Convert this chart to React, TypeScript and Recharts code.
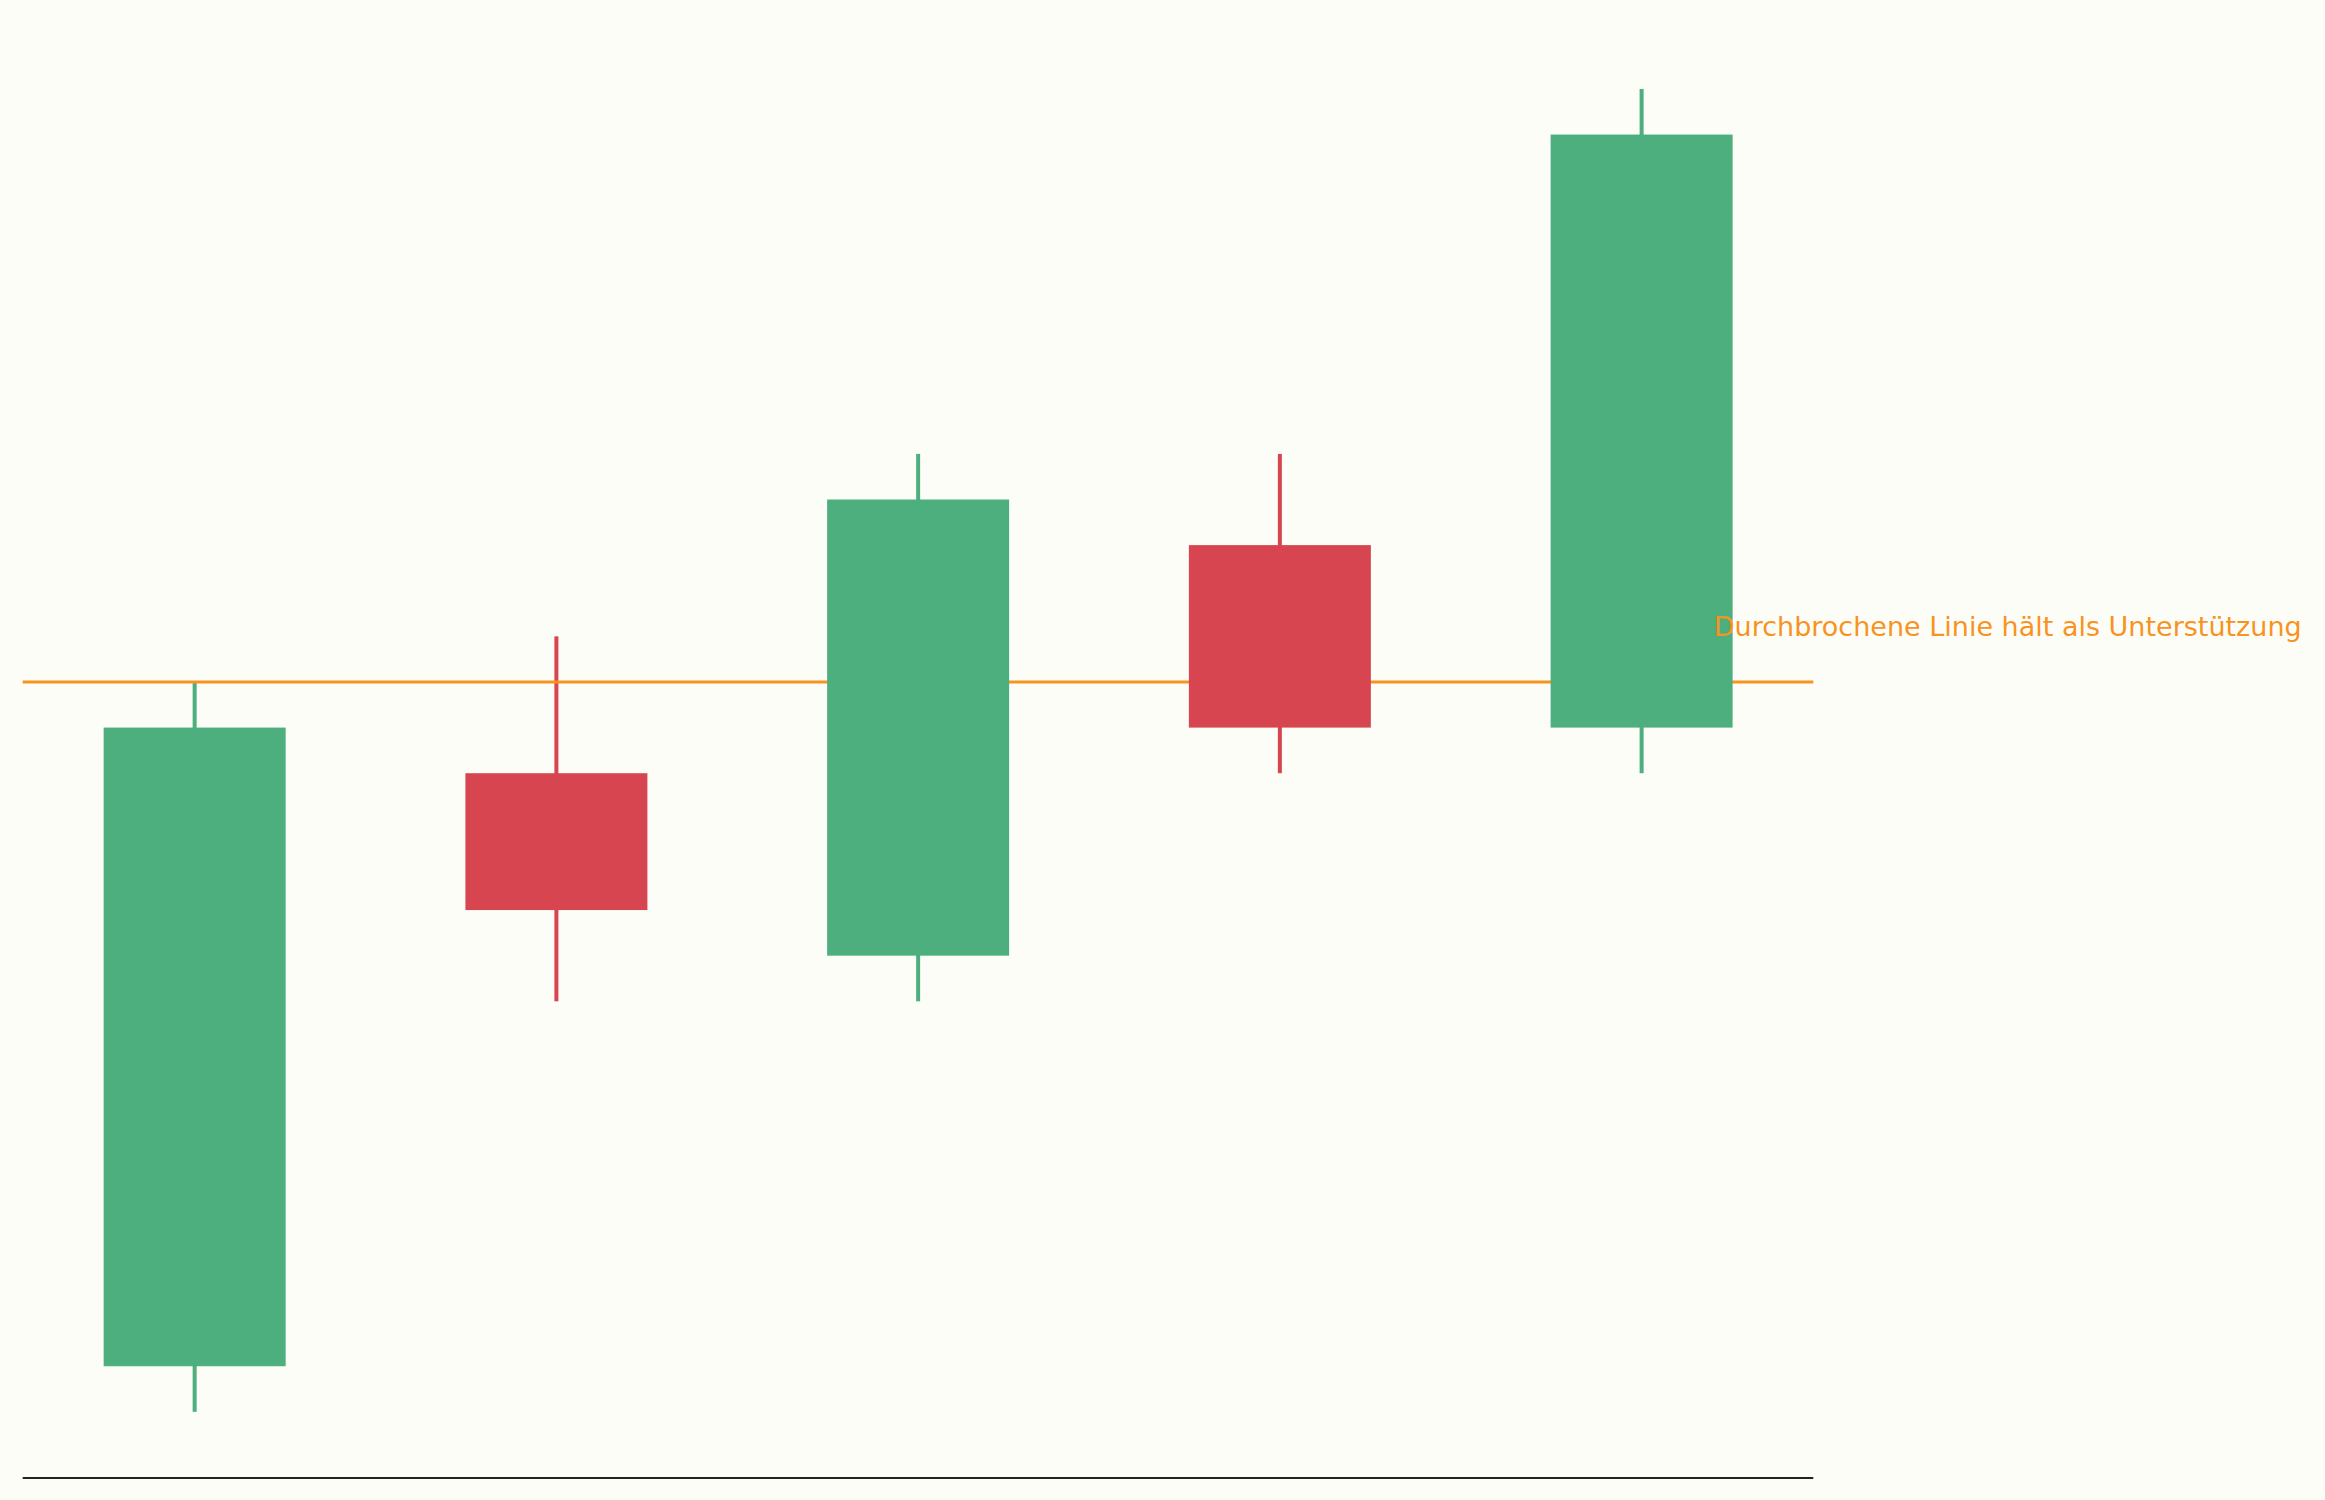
import React from "react";
import { ComposedChart, Bar, XAxis, YAxis, ReferenceLine, ReferenceDot } from "recharts";

// ---- data ----
const xIndex = [0, 1, 2, 3, 4];
const openValues = [85, 98, 94, 103, 99];
const closeValues = [99, 95, 104, 99, 112];
const highValues = [100, 101, 105, 105, 113];
const lowValues = [84, 93, 93, 98, 98];
const supportLevel = 100;
const supportLabel = "Durchbrochene Linie hält als Unterstützung";
const labelX = 4.2;
const labelY = 101;
const xDomain = [-0.475, 4.475];
const yDomain = [82.55, 114.45];

// ---- styles ----
const GREEN = "#4caf7d";
const RED = "#d64550";
const ORANGE = "#f7931e";
const BG = "#fdfdf8";

if (typeof document !== "undefined") {
  document.body.style.margin = "0";
  document.body.style.background = BG;
}

const data = xIndex.map((x, i) => ({
  x,
  open: openValues[i],
  close: closeValues[i],
  high: highValues[i],
  low: lowValues[i],
  wick: [lowValues[i], highValues[i]],
  body: [Math.min(openValues[i], closeValues[i]), Math.max(openValues[i], closeValues[i])],
}));

const colorOf = (p: any) => (p && p.close >= p.open ? GREEN : RED);

const WickShape = (props: any) => {
  const { x, y, width, height, payload } = props;
  const top = height < 0 ? y + height : y;
  const h = Math.abs(height);
  const cx = x + width / 2;
  return <rect x={cx - 2} y={top} width={4} height={h} fill={colorOf(payload)} />;
};

const BodyShape = (props: any) => {
  const { x, y, width, height, payload } = props;
  const top = height < 0 ? y + height : y;
  const h = Math.abs(height);
  return <rect x={x} y={top} width={width} height={h} fill={colorOf(payload)} />;
};

const renderLabel = (props: any) => {
  const vb = props.viewBox || {};
  return (
    <text
      x={vb.x}
      y={vb.y}
      fill={ORANGE}
      fontSize={27}
      fontFamily="'DejaVu Sans', sans-serif"
      textAnchor="start"
    >
      {supportLabel}
    </text>
  );
};

export default function App() {
  return (
    <div style={{ width: 2325, height: 1500, background: BG }}>
      <ComposedChart
        width={2325}
        height={1500}
        data={data}
        margin={{ top: 22.8, right: 511.7, bottom: 21, left: 22.7 }}
      >
        <XAxis
          dataKey="x"
          type="number"
          domain={xDomain}
          allowDataOverflow
          tick={false}
          tickLine={false}
          axisLine={{ stroke: "#222222", strokeWidth: 2 }}
          height={1}
        />
        <XAxis
          xAxisId="b"
          dataKey="x"
          type="number"
          domain={xDomain}
          allowDataOverflow
          hide
        />
        <YAxis type="number" domain={yDomain} allowDataOverflow hide />
        <Bar
          dataKey="wick"
          barSize={182}
          shape={<WickShape />}
          isAnimationActive={false}
          {...({ zIndex: 200 } as any)}
        />
        <ReferenceLine
          y={supportLevel}
          stroke={ORANGE}
          strokeWidth={3}
          {...({ zIndex: 250 } as any)}
        />
        <Bar
          dataKey="body"
          xAxisId="b"
          barSize={182}
          shape={<BodyShape />}
          isAnimationActive={false}
          {...({ zIndex: 300 } as any)}
        />
        <ReferenceDot
          x={labelX}
          y={labelY}
          r={0}
          fill="none"
          stroke="none"
          label={{ content: renderLabel }}
        />
      </ComposedChart>
    </div>
  );
}
